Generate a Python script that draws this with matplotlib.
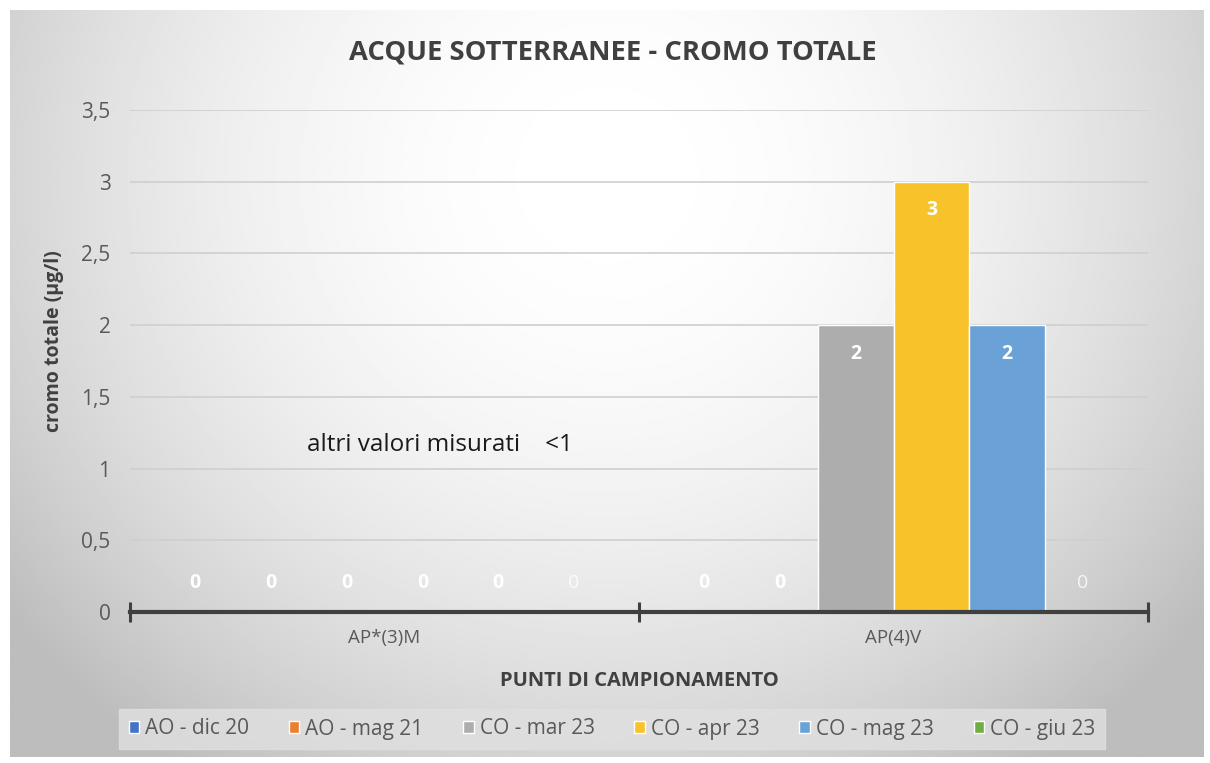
import matplotlib
matplotlib.use("Agg")
import matplotlib.pyplot as plt
import numpy as np

plt.rcParams['font.family'] = ['Open Sans', 'DejaVu Sans']

categories = ["AP*(3)M", "AP(4)V"]
series = ["AO - dic 20", "AO - mag 21", "CO - mar 23", "CO - apr 23", "CO - mag 23", "CO - giu 23"]
values = [
    [0, 0],  # AO - dic 20
    [0, 0],  # AO - mag 21
    [0, 2],  # CO - mar 23
    [0, 3],  # CO - apr 23
    [0, 2],  # CO - mag 23
    [0, 0],  # CO - giu 23
]
colors = ["#4472C4", "#ED7D31", "#ADADAD", "#F8C22A", "#6AA1D6", "#70AD47"]
yticks = [0, 0.5, 1, 1.5, 2, 2.5, 3, 3.5]
ytick_labels = ["0", "0,5", "1", "1,5", "2", "2,5", "3", "3,5"]

fig = plt.figure(figsize=(12.1, 7.63), dpi=100)

# radial gradient background of the chart area
bg = fig.add_axes([10 / 1210, 6 / 763, 1194 / 1210, 747 / 763])
yy, xx = np.mgrid[0:1:300j, 0:1:500j]
r2 = ((xx - 0.5) / 0.62) ** 2 + ((yy - 0.22) / 0.95) ** 2
shade = np.clip(1 - 0.25 * r2, 0.74, 1)
bg.imshow(shade, cmap="gray", vmin=0, vmax=1, aspect="auto", extent=[0, 1, 1, 0])
bg.set_axis_off()
bg.set_zorder(-5)

ax = fig.add_axes([130 / 1210, (763 - 612) / 763, 1018 / 1210, 502 / 763])
ax.patch.set_alpha(0)

w = 0.149
x = np.arange(len(categories)) + 0.5
for j, (name, vals, c) in enumerate(zip(series, values, colors)):
    pos = x + (j - 2.5) * w
    ax.bar(pos, vals, width=w, color=c, edgecolor="white", linewidth=1.0, label=name, zorder=3)
    for px, v in zip(pos, vals):
        ty = v - 0.2 if v > 0 else 0.2
        ax.text(px, ty, f"{v}", ha="center", va="center", color="white",
                fontsize=14, fontweight="normal" if j == 5 else "bold",
                alpha=0.8 if j == 5 else 1, zorder=4)

ax.set_xlim(0, 2)
ax.set_ylim(0, 3.5)
ax.set_yticks(yticks)
ax.set_yticklabels(ytick_labels, fontsize=15, color="#595959")
ax.tick_params(axis="y", length=0, pad=14)
ax.yaxis.grid(True, color="#CFCFCF", linewidth=1.2, zorder=0)
ax.set_axisbelow(True)

ax.set_xticks([0, 1, 2])
ax.set_xticklabels([])
ax.set_xticks(x, minor=True)
ax.set_xticklabels(categories, minor=True, fontsize=13.5, color="#595959")
ax.tick_params(axis="x", which="major", direction="inout", length=14, width=2.2, color="#404040")
ax.tick_params(axis="x", which="minor", length=0, pad=12)

for s in ["top", "right", "left"]:
    ax.spines[s].set_visible(False)
ax.spines["bottom"].set_color("#404040")
ax.spines["bottom"].set_linewidth(3)
ax.spines["bottom"].set_zorder(5)

ax.text(0.347, 1.165, "altri valori misurati    <1", fontsize=17.5, color="#1A1A1A", va="center", ha="left")

fig.text(613 / 1210, 1 - 52 / 763, "ACQUE SOTTERRANEE - CROMO TOTALE", ha="center", va="center",
         fontsize=19.7, color="#404040", fontweight="bold")
fig.text(639 / 1210, 1 - 681 / 763, "PUNTI DI CAMPIONAMENTO", ha="center", va="center",
         fontsize=14.5, color="#404040", fontweight="bold")
fig.text(54 / 1210, 1 - 341 / 763, "cromo totale (µg/l)", ha="center", va="center", rotation=90,
         fontsize=14, color="#404040", fontweight="bold")

leg = fig.legend(loc="center", bbox_to_anchor=(612 / 1210, 1 - 729 / 763), ncol=6, frameon=True,
                 fontsize=15, handlelength=0.5, handleheight=0.5, handletextpad=0.3,
                 columnspacing=1.9, borderpad=0.45, fancybox=False)
leg.get_frame().set_facecolor("#E0E0E0")
leg.get_frame().set_edgecolor("#E0E0E0")
for t in leg.get_texts():
    t.set_color("#595959")

fig.savefig("out.png", dpi=100)
